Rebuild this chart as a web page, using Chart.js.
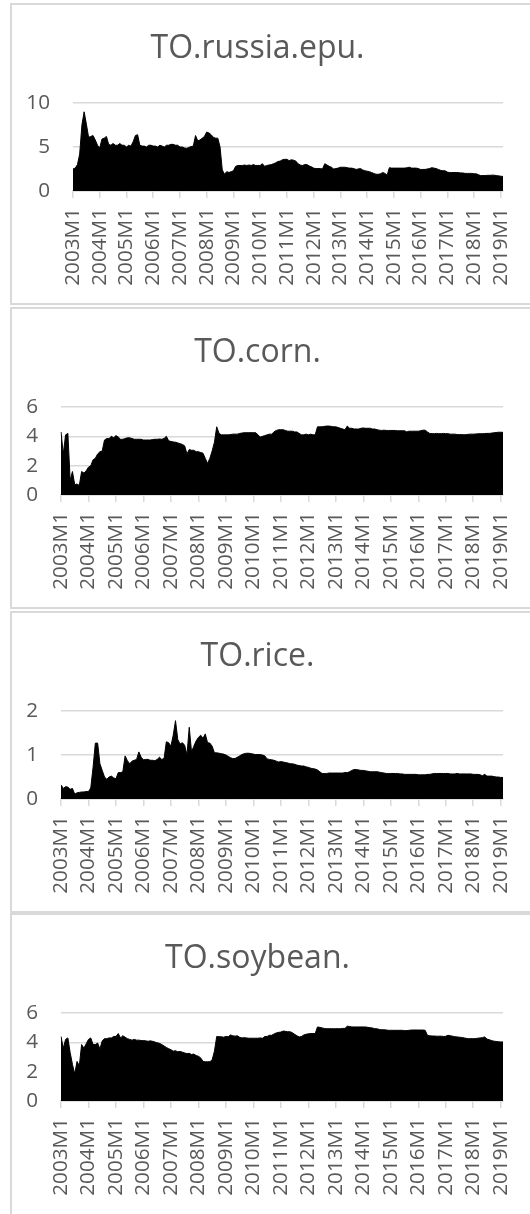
<!DOCTYPE html>
<html>
<head>
<meta charset="utf-8">
<title>TO panels</title>
<script src="https://cdn.jsdelivr.net/npm/chart.js@4.4.0/dist/chart.umd.min.js"></script>
<style>
  html, body { margin: 0; padding: 0; background: #fff; width: 530px; height: 1214px; overflow: hidden; }
  .panel { position: absolute; left: 10px; width: 530px; border: 2px solid #d9d9d9; border-right: none; }
  .panel canvas { display: block; }
</style>
</head>
<body>
<div class="panel" style="top:3px;height:298px"><canvas id="c1" width="518" height="298"></canvas></div>
<div class="panel" style="top:307px;height:298px"><canvas id="c2" width="518" height="298"></canvas></div>
<div class="panel" style="top:611px;height:298px"><canvas id="c3" width="518" height="298"></canvas></div>
<div class="panel" style="top:913px;height:302px"><canvas id="c4" width="518" height="298"></canvas></div>
<script>
// Monthly categories 2003M1 .. 2019M2
const firstYear = 2003;
const monthCount = 194;
const months = [];
for (let i = 0; i < monthCount; i++) {
  months.push((firstYear + Math.floor(i / 12)) + 'M' + (i % 12 + 1));
}

// Panel titles
const titles = ['TO.russia.epu.', 'TO.corn.', 'TO.rice.', 'TO.soybean.'];

// Y-axis ranges: [max, step]
const yRussia = [10, 5];
const yCorn = [6, 2];
const yRice = [2, 1];
const ySoybean = [6, 2];

const russiaEpu = [
  2.5, 2.6, 3.0, 4.2, 7.5, 9.0, 7.6, 6.1, 6.2, 6.3, 5.8, 5.2,
  4.9, 5.9, 6.0, 6.2, 5.3, 5.2, 5.4, 5.2, 5.2, 5.4, 5.2, 5.2,
  5.0, 5.2, 5.1, 5.6, 6.3, 6.4, 5.2, 5.1, 5.1, 5.0, 5.2, 5.2,
  5.1, 5.1, 5.0, 5.2, 5.1, 5.0, 5.2, 5.2, 5.3, 5.3, 5.2, 5.2,
  5.0, 5.0, 4.9, 4.85, 4.95, 5.05, 5.1, 6.3, 5.7, 5.8, 6.0, 6.2,
  6.7, 6.6, 6.4, 6.1, 6.0, 6.0, 5.0, 2.4, 1.9, 2.2, 2.1, 2.2,
  2.3, 2.8, 2.9, 2.9, 2.9, 2.95, 2.9, 2.95, 2.9, 3.0, 2.9, 2.9,
  2.9, 3.1, 2.8, 2.9, 2.95, 3.0, 3.1, 3.2, 3.35, 3.4, 3.55, 3.6,
  3.6, 3.45, 3.55, 3.5, 3.4, 3.1, 2.95, 2.9, 3.0, 3.0, 2.85, 2.75,
  2.6, 2.55, 2.55, 2.55, 2.5, 3.1, 2.95, 2.8, 2.7, 2.5, 2.55, 2.6,
  2.7, 2.7, 2.7, 2.65, 2.6, 2.6, 2.55, 2.45, 2.5, 2.55, 2.4, 2.3,
  2.25, 2.2, 2.1, 2.0, 1.9, 1.9, 1.95, 2.1, 2.0, 1.8, 2.65, 2.6,
  2.6, 2.6, 2.6, 2.6, 2.6, 2.6, 2.65, 2.7, 2.6, 2.6, 2.6, 2.55,
  2.45, 2.45, 2.45, 2.5, 2.55, 2.65, 2.6, 2.55, 2.45, 2.35, 2.3, 2.3,
  2.15, 2.1, 2.1, 2.1, 2.1, 2.1, 2.05, 2.05, 2.0, 2.0, 2.0, 2.0,
  1.95, 1.95, 1.85, 1.75, 1.75, 1.75, 1.78, 1.78, 1.8, 1.8, 1.75, 1.72,
  1.68, 1.65
];

const corn = [
  4.3, 2.8, 4.1, 4.2, 1.0, 1.6, 0.7, 0.75, 0.65, 1.6, 1.5, 1.65,
  1.9, 2.0, 2.4, 2.5, 2.8, 2.95, 3.0, 3.75, 3.85, 3.85, 4.0, 3.9,
  4.05, 3.95, 3.8, 3.8, 3.85, 3.9, 3.9, 3.85, 3.8, 3.8, 3.8, 3.8,
  3.75, 3.75, 3.75, 3.75, 3.78, 3.8, 3.8, 3.82, 3.8, 3.85, 4.0, 3.7,
  3.65, 3.62, 3.6, 3.55, 3.5, 3.45, 3.35, 2.8, 3.1, 3.05, 3.05, 2.95,
  2.95, 2.9, 2.85, 2.5, 2.15, 2.5, 3.0, 3.6, 4.65, 4.2, 4.1, 4.1,
  4.1, 4.1, 4.12, 4.15, 4.15, 4.15, 4.2, 4.22, 4.25, 4.25, 4.25, 4.25,
  4.25, 4.25, 4.1, 3.95, 4.0, 4.05, 4.1, 4.15, 4.15, 4.3, 4.4, 4.45,
  4.45, 4.45, 4.4, 4.35, 4.35, 4.35, 4.3, 4.3, 4.2, 4.1, 4.1, 4.15,
  4.1, 4.15, 4.1, 4.1, 4.65, 4.65, 4.65, 4.68, 4.7, 4.7, 4.68, 4.65,
  4.65, 4.6, 4.55, 4.5, 4.45, 4.7, 4.55, 4.55, 4.5, 4.5, 4.5, 4.55,
  4.57, 4.55, 4.55, 4.55, 4.5, 4.5, 4.45, 4.42, 4.4, 4.42, 4.4, 4.4,
  4.4, 4.4, 4.4, 4.38, 4.38, 4.38, 4.38, 4.3, 4.35, 4.35, 4.35, 4.35,
  4.35, 4.38, 4.42, 4.42, 4.3, 4.2, 4.18, 4.18, 4.2, 4.18, 4.18, 4.2,
  4.18, 4.18, 4.15, 4.15, 4.15, 4.12, 4.12, 4.12, 4.1, 4.12, 4.14, 4.15,
  4.15, 4.16, 4.17, 4.18, 4.18, 4.19, 4.2, 4.2, 4.22, 4.24, 4.26, 4.28,
  4.28, 4.27
];

const rice = [
  0.32, 0.24, 0.28, 0.27, 0.22, 0.24, 0.11, 0.14, 0.15, 0.16, 0.16, 0.17,
  0.17, 0.25, 0.72, 1.27, 1.27, 0.8, 0.65, 0.5, 0.45, 0.5, 0.52, 0.48,
  0.46, 0.6, 0.6, 0.62, 0.98, 0.87, 0.8, 0.86, 0.88, 0.9, 1.07, 0.95,
  0.89, 0.9, 0.9, 0.88, 0.88, 0.87, 0.9, 0.95, 0.9, 0.92, 1.3, 1.28,
  1.2, 1.45, 1.78, 1.35, 1.25, 1.28, 1.22, 1.0, 1.63, 1.07, 1.2, 1.32,
  1.4, 1.45, 1.38, 1.48, 1.28, 1.27, 1.2, 1.05, 1.05, 1.04, 1.03, 1.02,
  1.0, 0.97, 0.94, 0.92, 0.92, 0.95, 0.98, 1.01, 1.03, 1.04, 1.04, 1.03,
  1.02, 1.01, 1.01, 1.01, 1.0, 0.98, 0.91, 0.9, 0.89, 0.88, 0.86, 0.84,
  0.85, 0.84, 0.83, 0.82, 0.8, 0.8, 0.79, 0.77, 0.76, 0.75, 0.75, 0.73,
  0.72, 0.7, 0.69, 0.68, 0.66, 0.62, 0.58, 0.58, 0.58, 0.59, 0.59, 0.59,
  0.59, 0.59, 0.59, 0.59, 0.6, 0.6, 0.62, 0.65, 0.67, 0.67, 0.66, 0.65,
  0.65, 0.64, 0.63, 0.62, 0.62, 0.62, 0.62, 0.61, 0.6, 0.59, 0.58, 0.58,
  0.58, 0.58, 0.58, 0.58, 0.57, 0.57, 0.56, 0.56, 0.56, 0.56, 0.56, 0.56,
  0.55, 0.55, 0.55, 0.55, 0.56, 0.56, 0.57, 0.58, 0.58, 0.58, 0.58, 0.58,
  0.58, 0.58, 0.57, 0.57, 0.57, 0.58, 0.57, 0.57, 0.57, 0.57, 0.57, 0.57,
  0.56, 0.56, 0.56, 0.55, 0.53, 0.56, 0.52, 0.52, 0.52, 0.51, 0.5, 0.5,
  0.49, 0.49
];

const soybean = [
  4.4, 3.6, 4.2, 4.3, 3.3, 2.5, 1.85, 2.7, 2.4, 3.85, 3.6, 3.9,
  4.2, 4.3, 3.85, 3.85, 3.95, 3.55, 4.1, 4.25, 4.25, 4.3, 4.3, 4.4,
  4.4, 4.6, 4.3, 4.45, 4.35, 4.25, 4.2, 4.15, 4.2, 4.15, 4.15, 4.12,
  4.12, 4.1, 4.07, 4.1, 4.07, 4.02, 3.97, 3.93, 3.85, 3.75, 3.65, 3.57,
  3.5, 3.4, 3.43, 3.35, 3.38, 3.33, 3.28, 3.23, 3.25, 3.17, 3.2, 3.1,
  3.05, 2.94, 2.7, 2.67, 2.68, 2.68, 2.8, 3.4, 4.4, 4.38, 4.38, 4.35,
  4.4, 4.38, 4.5, 4.45, 4.42, 4.45, 4.35, 4.3, 4.32, 4.3, 4.28, 4.28,
  4.28, 4.28, 4.28, 4.3, 4.28, 4.4, 4.4, 4.48, 4.48, 4.57, 4.64, 4.68,
  4.7, 4.77, 4.75, 4.72, 4.72, 4.66, 4.55, 4.45, 4.37, 4.4, 4.5, 4.55,
  4.58, 4.6, 4.6, 4.6, 5.05, 5.02, 4.98, 4.95, 4.93, 4.93, 4.93, 4.93,
  4.93, 4.93, 4.93, 4.95, 4.95, 5.1, 5.08, 5.05, 5.05, 5.05, 5.05, 5.05,
  5.05, 5.05, 5.02, 5.0, 4.98, 4.93, 4.92, 4.88, 4.86, 4.86, 4.84, 4.82,
  4.82, 4.82, 4.82, 4.82, 4.82, 4.82, 4.8, 4.8, 4.82, 4.84, 4.84, 4.84,
  4.84, 4.84, 4.84, 4.82, 4.48, 4.45, 4.43, 4.43, 4.42, 4.42, 4.42, 4.4,
  4.41, 4.48, 4.45, 4.42, 4.38, 4.37, 4.35, 4.33, 4.3, 4.27, 4.25, 4.25,
  4.25, 4.26, 4.28, 4.3, 4.32, 4.37, 4.22, 4.18, 4.12, 4.08, 4.06, 4.04,
  4.03, 4.03
];

const FONT = '"Open Sans", "Liberation Sans", sans-serif';
const TEXT = '#595959';
const GRID = '#d9d9d9';

function areaPanel(canvasId, title, values, yRange, yAxisWidth) {
  return new Chart(document.getElementById(canvasId), {
    type: 'line',
    data: {
      labels: months,
      datasets: [{
        data: values,
        fill: 'origin',
        backgroundColor: '#000000',
        borderColor: '#000000',
        borderWidth: 1,
        pointRadius: 0,
        tension: 0
      }]
    },
    options: {
      responsive: false,
      animation: false,
      devicePixelRatio: 1,
      layout: { padding: { left: 0, right: 27, top: 0, bottom: 0 } },
      plugins: {
        legend: { display: false },
        tooltip: { enabled: false },
        title: {
          display: true,
          text: title,
          color: TEXT,
          font: { family: FONT, size: 32, weight: 'normal', lineHeight: 1.2 },
          padding: { top: 25, bottom: 34.6 }
        }
      },
      scales: {
        x: {
          offset: false,
          grid: { display: true, drawOnChartArea: false, drawTicks: true, tickLength: 7, color: GRID, lineWidth: 1.5 },
          border: { display: true, color: GRID, width: 1.5 },
          ticks: {
            autoSkip: false,
            maxRotation: 90,
            minRotation: 90,
            padding: 10,
            color: TEXT,
            font: { family: FONT, size: 20.7 },
            callback: (v, i) => (i % 12 === 0 ? months[i] : null)
          },
          afterFit: s => { s.height = 112; s.paddingLeft = 0; s.paddingRight = 0; }
        },
        y: {
          min: 0,
          max: yRange[0],
          ticks: { stepSize: yRange[1], padding: 23, color: TEXT, font: { family: FONT, size: 20.7 } },
          grid: { color: GRID, lineWidth: 1.5, drawTicks: false },
          border: { display: false },
          afterFit: s => { s.width = yAxisWidth; }
        }
      }
    }
  });
}

areaPanel('c1', titles[0], russiaEpu, yRussia, 61);
areaPanel('c2', titles[1], corn, yCorn, 49);
areaPanel('c3', titles[2], rice, yRice, 49);
areaPanel('c4', titles[3], soybean, ySoybean, 49);
</script>
</body>
</html>
